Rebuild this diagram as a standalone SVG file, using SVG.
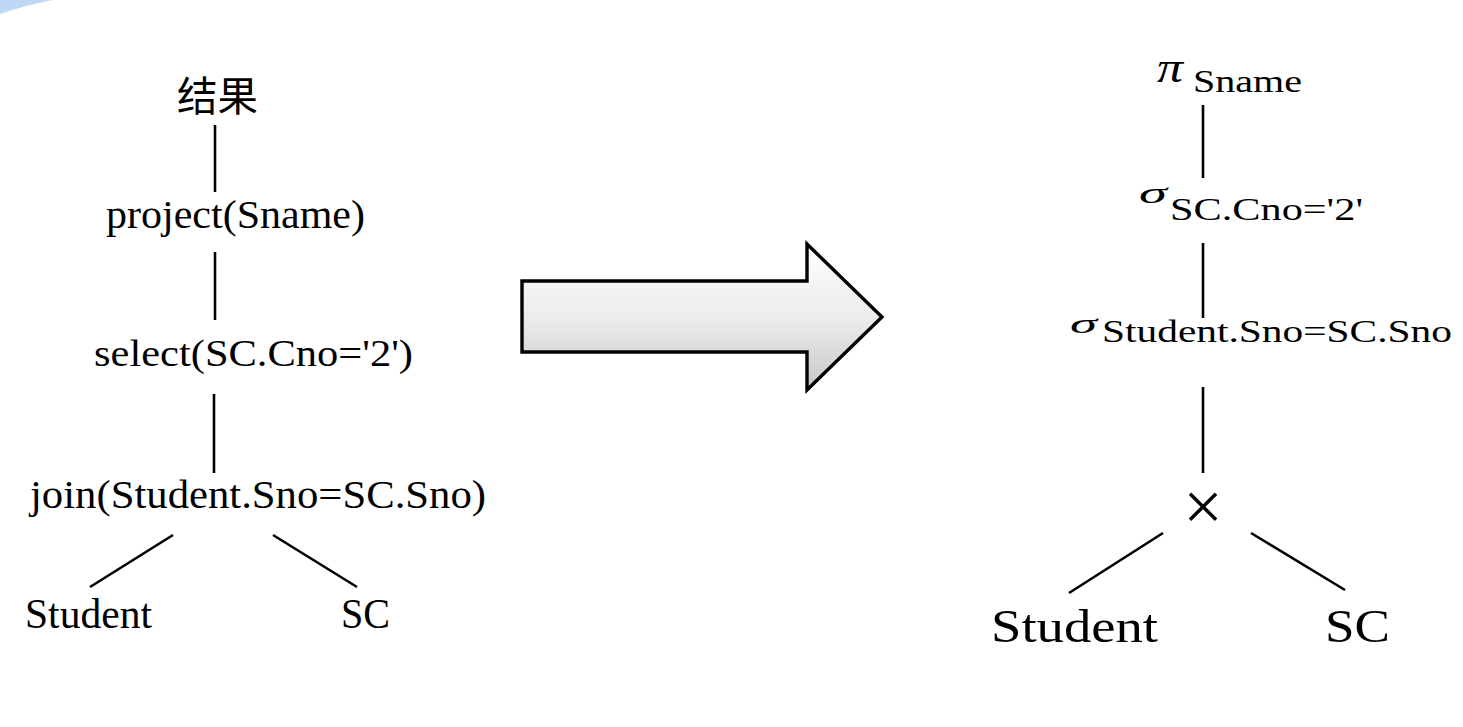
<svg xmlns="http://www.w3.org/2000/svg" width="1463" height="727" viewBox="0 0 1463 727">
  <style>
    .t { font-family: "Liberation Serif", "Times New Roman", serif; fill: #000; }
    .cjk { font-family: "Noto Sans CJK SC", "Liberation Serif", sans-serif; fill: #000; }
    .g { font-family: "Liberation Serif", "DejaVu Serif", serif; font-style: italic; fill: #000; }
    .edge { stroke: #000; stroke-width: 2.6; fill: none; }
  </style>
  <defs>
    <linearGradient id="arrowFill" x1="0" y1="0" x2="0" y2="1">
      <stop offset="0" stop-color="#ffffff"/>
      <stop offset="0.5" stop-color="#ececec"/>
      <stop offset="1" stop-color="#c8c8c8"/>
    </linearGradient>
  </defs>
  <rect width="1463" height="727" fill="#ffffff"/>
  <path d="M0,0 L53,0 Q26,5 0,14 Z" fill="#bcd8f4"/>

  <g id="connectors">
    <line class="edge" x1="215" y1="125" x2="215" y2="192"/>
    <line class="edge" x1="215" y1="252" x2="215" y2="320"/>
    <line class="edge" x1="214" y1="394" x2="214" y2="473"/>
    <line class="edge" x1="173" y1="535" x2="90" y2="587"/>
    <line class="edge" x1="273" y1="535" x2="357" y2="587"/>
    <line class="edge" x1="1203" y1="105" x2="1203" y2="178"/>
    <line class="edge" x1="1203" y1="243" x2="1203" y2="318"/>
    <line class="edge" x1="1203" y1="387" x2="1203" y2="473"/>
    <line class="edge" x1="1163" y1="533" x2="1069" y2="593"/>
    <line class="edge" x1="1251" y1="533" x2="1345" y2="590"/>
  </g>

  <g id="arrow">
    <path d="M522,281 L807,281 L807,244 L882,317 L807,390 L807,352 L522,352 Z" fill="url(#arrowFill)" stroke="#000" stroke-width="3.4" stroke-linejoin="miter"/>
  </g>

  <g id="left-result"><text class="cjk" x="177" y="111" font-size="41" textLength="81" lengthAdjust="spacingAndGlyphs">结果</text></g>
  <g id="left-project"><text class="t" x="106" y="228" font-size="39" textLength="259" lengthAdjust="spacingAndGlyphs">project(Sname)</text></g>
  <g id="left-select"><text class="t" x="94" y="366" font-size="38" textLength="319" lengthAdjust="spacingAndGlyphs">select(SC.Cno='2')</text></g>
  <g id="left-join"><text class="t" x="30" y="508" font-size="40" textLength="456" lengthAdjust="spacingAndGlyphs">join(Student.Sno=SC.Sno)</text></g>
  <g id="left-student"><text class="t" x="25" y="628" font-size="42" textLength="127" lengthAdjust="spacingAndGlyphs">Student</text></g>
  <g id="left-sc"><text class="t" x="341" y="628" font-size="42" textLength="49" lengthAdjust="spacingAndGlyphs">SC</text></g>

  <g id="right-project">
    <text class="g" x="1157" y="82" font-size="44" textLength="26" lengthAdjust="spacingAndGlyphs">π</text>
    <text class="t" x="1193" y="92" font-size="32" textLength="109" lengthAdjust="spacingAndGlyphs">Sname</text>
  </g>
  <g id="right-select1">
    <text class="g" x="1139" y="203" font-size="30" textLength="28" lengthAdjust="spacingAndGlyphs">σ</text>
    <text class="t" x="1170" y="220" font-size="32" textLength="193" lengthAdjust="spacingAndGlyphs">SC.Cno='2'</text>
  </g>
  <g id="right-select2">
    <text class="g" x="1070" y="333" font-size="28" textLength="27" lengthAdjust="spacingAndGlyphs">σ</text>
    <text class="t" x="1102" y="342" font-size="32" textLength="350" lengthAdjust="spacingAndGlyphs">Student.Sno=SC.Sno</text>
  </g>
  <g id="right-product"><text class="t" x="1203" y="530" font-size="70" text-anchor="middle">×</text></g>
  <g id="right-student"><text class="t" x="991" y="642" font-size="47" textLength="167" lengthAdjust="spacingAndGlyphs">Student</text></g>
  <g id="right-sc"><text class="t" x="1325" y="642" font-size="47" textLength="65" lengthAdjust="spacingAndGlyphs">SC</text></g>
</svg>
